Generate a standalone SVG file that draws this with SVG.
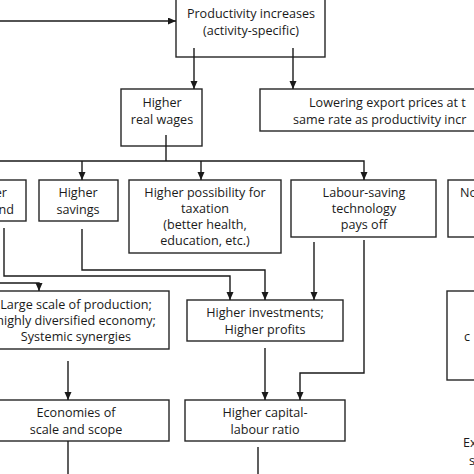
<svg xmlns="http://www.w3.org/2000/svg" width="474" height="474" viewBox="0 0 474 474">
<defs>
<marker id="ah" markerUnits="userSpaceOnUse" markerWidth="9" markerHeight="9" refX="8" refY="3.5" orient="auto">
<path d="M0,0 L8,3.5 L0,7 z" fill="#1a1a1a"/>
</marker>
</defs>
<style>
.box{fill:#fff;stroke:#262626;stroke-width:1.4}
.t{font-family:"Open Sans","Noto Sans",sans-serif;font-size:12.6px;fill:#1a1a1a;text-anchor:middle}
.ts{font-family:"Open Sans","Noto Sans",sans-serif;font-size:12.6px;fill:#1a1a1a}
.c{fill:none;stroke:#1a1a1a;stroke-width:1.4}
.a{marker-end:url(#ah)}
</style>
<rect width="474" height="474" fill="#fff"/>
<g id="n-productivity">
<rect class="box" x="176" y="-5" width="149" height="62"/>
<text class="t" x="251" y="18">Productivity increases</text>
<text class="t" x="251" y="35">(activity-specific)</text>
</g>
<g id="n-wages">
<rect class="box" x="121" y="89" width="81" height="57"/>
<text class="t" x="162" y="107">Higher</text>
<text class="t" x="162" y="124">real wages</text>
</g>
<g id="n-export">
<rect class="box" x="260" y="89" width="230" height="42"/>
<text class="ts" x="309" y="107">Lowering export prices at t</text>
<text class="ts" x="293" y="124">same rate as productivity incr</text>
</g>
<g id="n-demand">
<rect class="box" x="-20" y="180" width="46" height="41"/>
<text class="t" x="7" y="197" style="text-anchor:end">er</text>
<text class="t" x="14" y="214" style="text-anchor:end">nd</text>
</g>
<g id="n-savings">
<rect class="box" x="39" y="180" width="79" height="41"/>
<text class="t" x="78" y="197">Higher</text>
<text class="t" x="78" y="214">savings</text>
</g>
<g id="n-taxation">
<rect class="box" x="129" y="180" width="152" height="73"/>
<text class="t" x="205" y="197">Higher possibility for</text>
<text class="t" x="205" y="213">taxation</text>
<text class="t" x="205" y="229">(better health,</text>
<text class="t" x="205" y="245">education, etc.)</text>
</g>
<g id="n-labour">
<rect class="box" x="291" y="180" width="145" height="57"/>
<text class="t" x="364" y="197">Labour-saving</text>
<text class="t" x="364" y="213">technology</text>
<text class="t" x="364" y="229">pays off</text>
</g>
<g id="n-no">
<rect class="box" x="448" y="180" width="40" height="57"/>
<text class="ts" x="460" y="197">No</text>
</g>
<g id="n-largescale">
<rect class="box" x="-17" y="291" width="186" height="58"/>
<text class="t" x="76" y="309">Large scale of production;</text>
<text class="t" x="76" y="325">highly diversified economy;</text>
<text class="t" x="76" y="341">Systemic synergies</text>
</g>
<g id="n-investments">
<rect class="box" x="187" y="300" width="156" height="41"/>
<text class="t" x="265" y="317">Higher investments;</text>
<text class="t" x="265" y="334">Higher profits</text>
</g>
<g id="n-rightbox">
<rect class="box" x="447" y="291" width="40" height="89"/>
<text class="ts" x="464" y="341">c</text>
</g>
<g id="n-economies">
<rect class="box" x="-17" y="400" width="186" height="41"/>
<text class="t" x="76" y="417">Economies of</text>
<text class="t" x="76" y="434">scale and scope</text>
</g>
<g id="n-capital">
<rect class="box" x="185" y="400" width="160" height="41"/>
<text class="t" x="265" y="417">Higher capital-</text>
<text class="t" x="265" y="434">labour ratio</text>
</g>
<g id="n-ex">
<text class="ts" x="463" y="447">Ex</text>
<text class="ts" x="469" y="465">s</text>
</g>
<g id="connectors">
<path class="c a" d="M0,21 H176"/>
<path class="c a" d="M194,48 V89"/>
<path class="c a" d="M293,48 V89"/>
<path class="c" d="M166,135 V161"/>
<path class="c a" d="M0,161 H364 V180"/>
<path class="c a" d="M82,161 V180"/>
<path class="c a" d="M201,161 V180"/>
<path class="c a" d="M4,228 V276 H230 V300"/>
<path class="c a" d="M82,229 V270 H265 V300"/>
<path class="c a" d="M0,283 H39 V291"/>
<path class="c a" d="M314,242 V300"/>
<path class="c a" d="M364,240 V373 H300 V400"/>
<path class="c a" d="M68,361 V400"/>
<path class="c a" d="M265,348 V400"/>
<path class="c" d="M68,441 V474"/>
<path class="c" d="M258,447 V474"/>
</g>
</svg>
